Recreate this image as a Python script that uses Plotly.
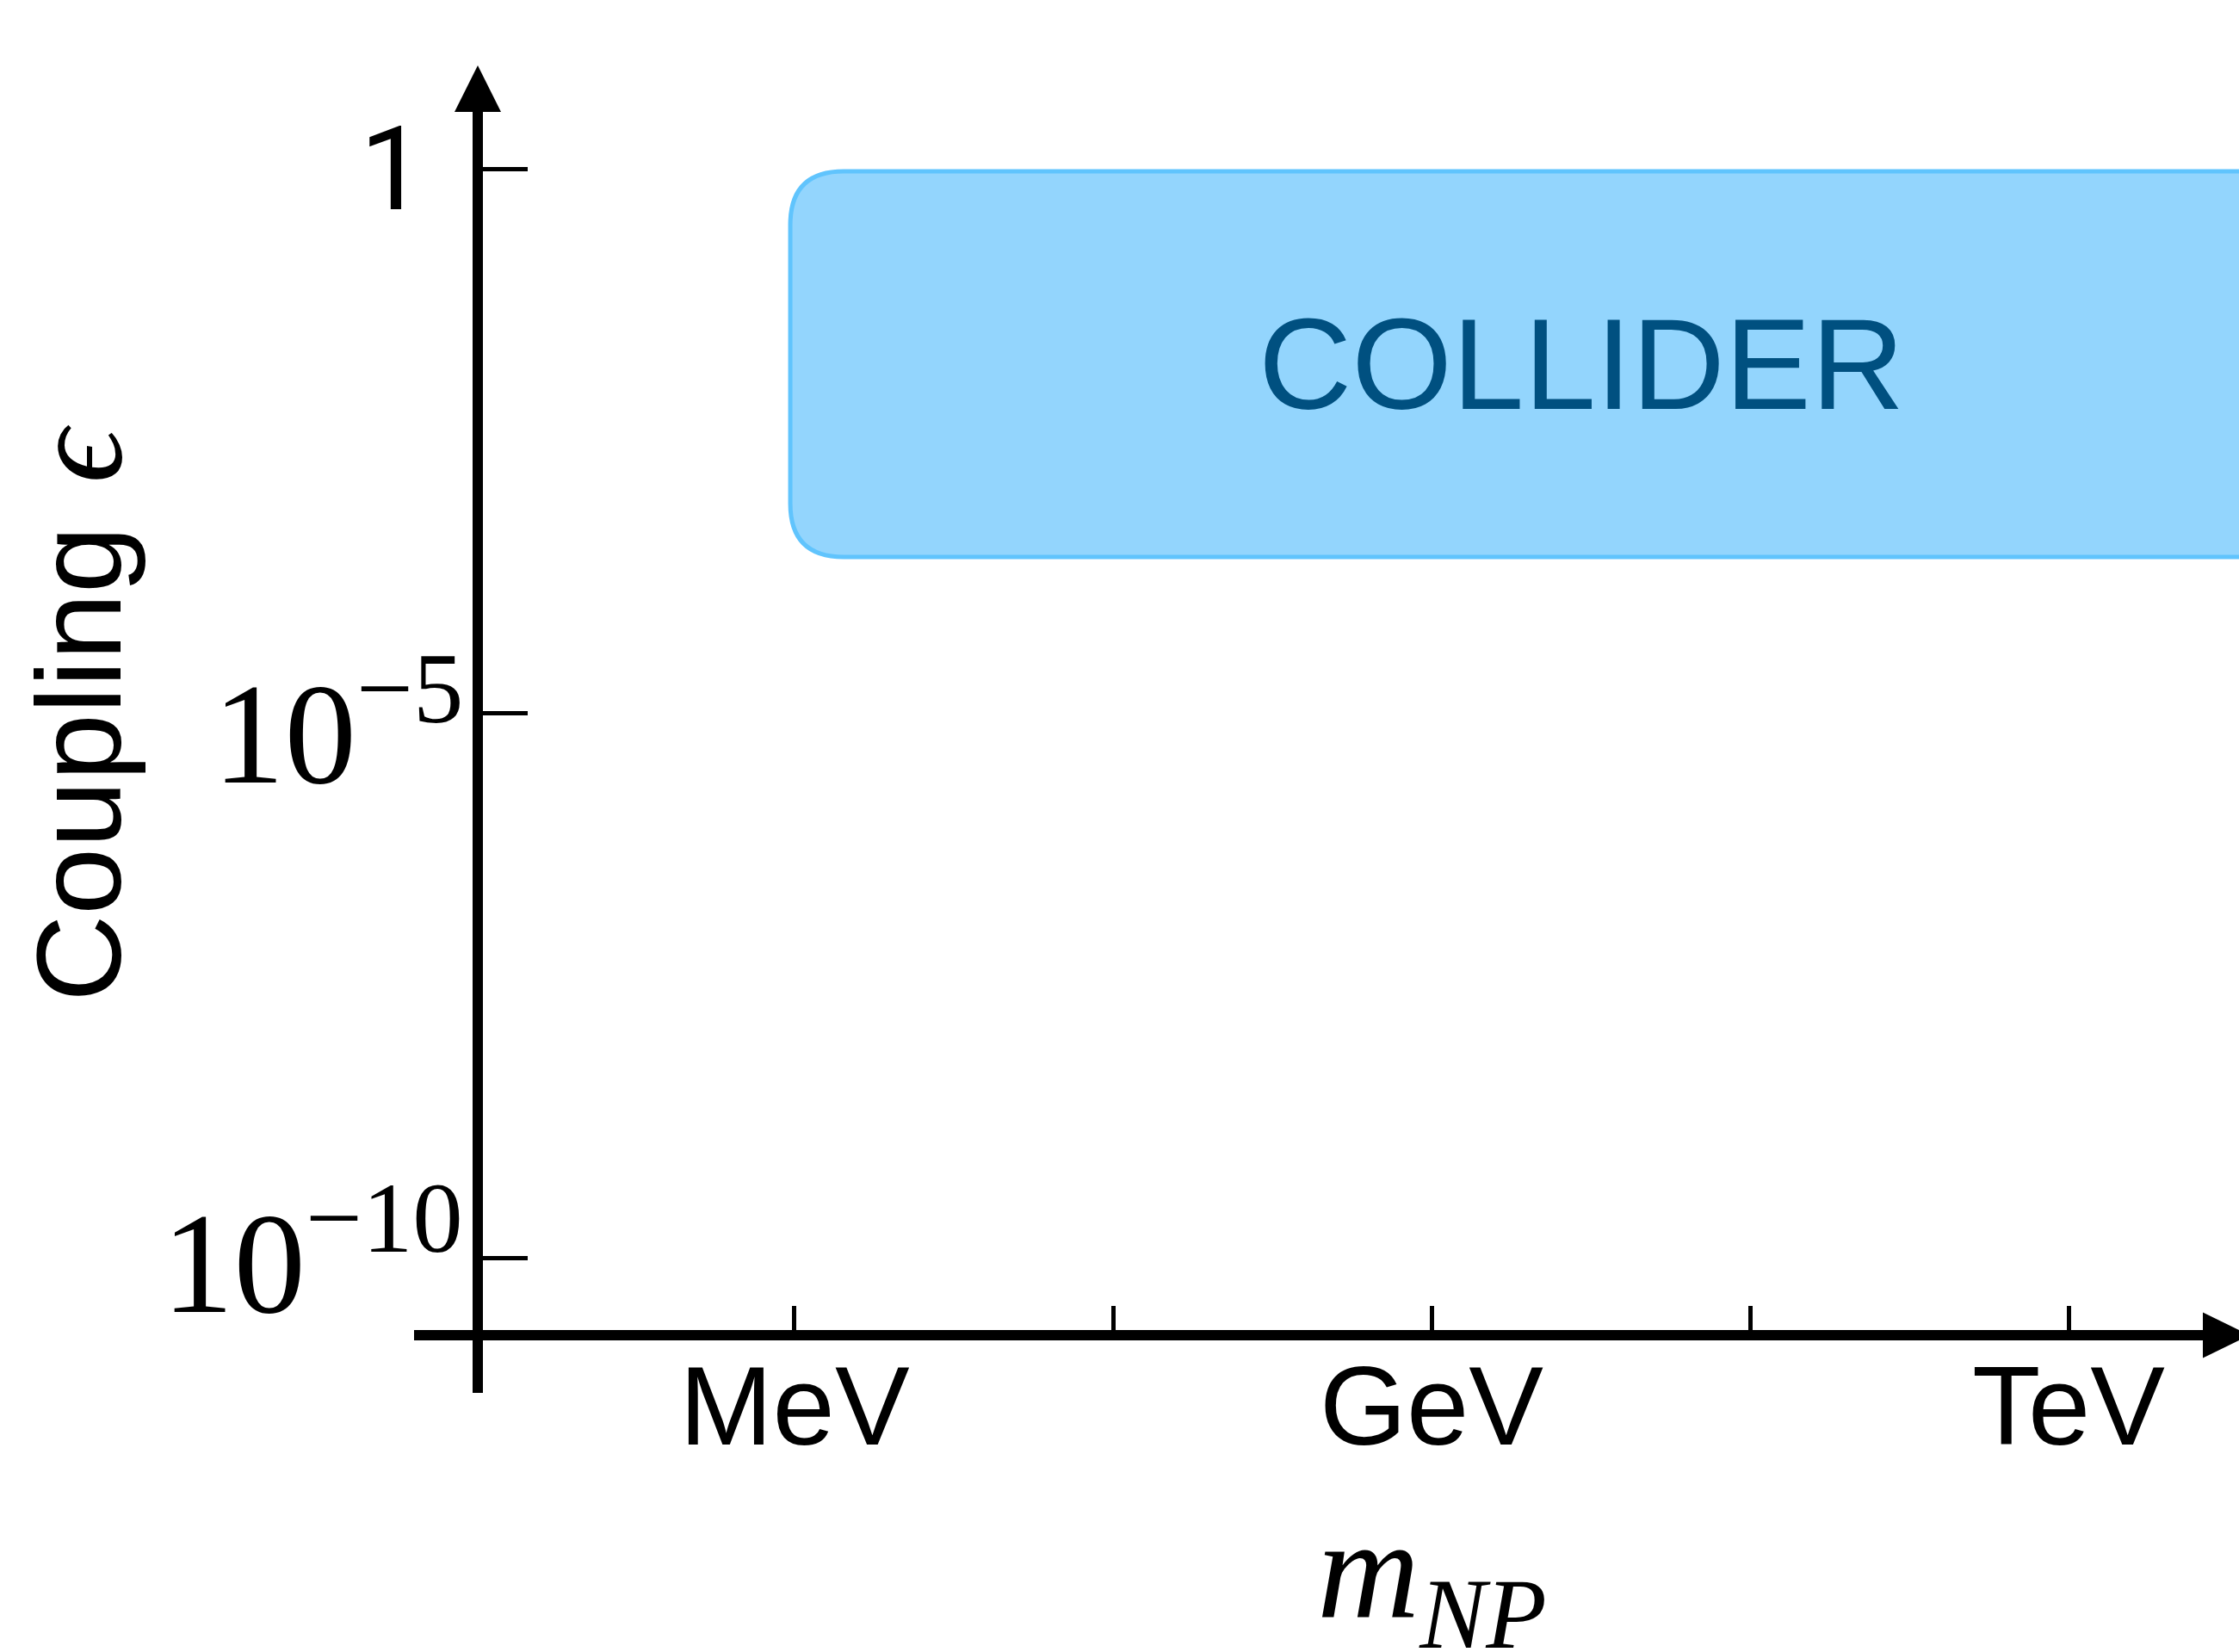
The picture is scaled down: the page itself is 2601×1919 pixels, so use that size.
import math
import plotly.graph_objects as go

# ---------------- data ----------------
mass_tick_vals_gev = [1e-3, 10**-1.5, 1.0, 10**1.5, 1e3]
mass_tick_labels = ["MeV", "", "GeV", "", "TeV"]
coupling_tick_vals = [1e-10, 1e-5, 1.0]
coupling_tick_labels = ["10<sup>\u221210</sup>", "10<sup>\u22125</sup>", "1"]
collider_mass_range_gev = [9.55e-4, 2.7e4]
collider_coupling_range = [2.74e-4, 0.957]
region_label = "COLLIDER"
x_title = "<i>m</i><sub><i>NP</i></sub>"
y_title = "Coupling"
y_title_symbol = "\u03f5"

# ---------------- layout geometry (pixels) ----------------
W, H = 2601, 1919
ML, MR, MT, MB = 561, 0, 130, 374
PW = W - ML - MR
PH = H - MT - MB

x_px_per_dec = 246.67
x_zero_px = 1663.0
xr = [(ML - x_zero_px) / x_px_per_dec, (W - MR - x_zero_px) / x_px_per_dec]
y_px_per_dec = 126.44
y_zero_px = 196.6
yr = [-(H - MB - y_zero_px) / y_px_per_dec, (y_zero_px - MT) / y_px_per_dec]


def px(x):
    return (x - ML) / PW


def py(y):
    return (H - MB - y) / PH


lx = [math.log10(v) for v in mass_tick_vals_gev]
ly = [math.log10(v) for v in coupling_tick_vals]

serif = "Liberation Serif"
sans = "Liberation Sans"
black = "#000000"

fig = go.Figure()

fig.add_trace(go.Scatter(x=[xr[0], xr[1]], y=[yr[0], yr[1]], mode="markers",
                         marker=dict(opacity=0), hoverinfo="skip", showlegend=False))

# rounded COLLIDER region
bx0, bx1 = [math.log10(v) for v in collider_mass_range_gev]
by0, by1 = [math.log10(v) for v in collider_coupling_range]
r_px = 62
rx = r_px / x_px_per_dec
ry = r_px / y_px_per_dec
path = (f"M{bx0 + rx},{by1} L{bx1 - rx},{by1} Q{bx1},{by1} {bx1},{by1 - ry} "
        f"L{bx1},{by0 + ry} Q{bx1},{by0} {bx1 - rx},{by0} "
        f"L{bx0 + rx},{by0} Q{bx0},{by0} {bx0},{by0 + ry} "
        f"L{bx0},{by1 - ry} Q{bx0},{by1} {bx0 + rx},{by1} Z")
fig.add_shape(type="path", path=path, xref="x", yref="y",
              fillcolor="#93D5FD", line=dict(color="#60C4FD", width=5), layer="below")

fig.add_annotation(x=(bx0 + bx1) / 2, y=(by0 + by1) / 2, xref="x", yref="y",
                   text=region_label, showarrow=False,
                   font=dict(family=sans, size=150, color="#005080"))

# y tick labels (drawn at the coupling tick values)
ylab_style = {
    "1": dict(family="Roboto", size=135, right=496, yshift=0),
    "10<sup>\u22125</sup>": dict(family=serif, size=167, right=540, yshift=-11),
    "10<sup>\u221210</sup>": dict(family=serif, size=167, right=540, yshift=6),
}
for val, lab in zip(ly, coupling_tick_labels):
    st = ylab_style[lab]
    fig.add_annotation(x=px(st["right"]), xref="paper", xanchor="right",
                       y=val, yref="y", yanchor="middle", yshift=st["yshift"],
                       text=lab, showarrow=False,
                       font=dict(family=st["family"], size=st["size"], color=black))

# axis overhangs and arrowheads
fig.add_shape(type="line", xref="paper", yref="paper", x0=px(481), x1=px(561),
              y0=py(1551), y1=py(1551), line=dict(color=black, width=12))
fig.add_shape(type="line", xref="paper", yref="paper", x0=px(555), x1=px(555),
              y0=py(1618), y1=py(1545), line=dict(color=black, width=12))
fig.add_shape(type="line", xref="paper", yref="paper", x0=px(555), x1=px(555),
              y0=py(140), y1=py(125), line=dict(color=black, width=12))
fig.add_shape(type="path", xref="paper", yref="paper",
              path=f"M{px(528)},{py(130)} L{px(582)},{py(130)} L{px(555)},{py(76)} Z",
              fillcolor=black, line=dict(width=0))
fig.add_shape(type="path", xref="paper", yref="paper",
              path=f"M{px(2559)},{py(1524.5)} L{px(2559)},{py(1577.5)} L{px(2613)},{py(1551)} Z",
              fillcolor=black, line=dict(width=0))

# axis titles
fig.add_annotation(x=0, xref="x", y=py(1835), yref="paper", yanchor="middle",
                   text=x_title, showarrow=False,
                   font=dict(family=serif, size=165, color=black))
fig.add_annotation(x=px(88), xref="paper", y=-5.0, yref="y", xanchor="center", yanchor="middle",
                   textangle=-90, showarrow=False,
                   text=(f'{y_title} <span style="font-size:40px">\u00a0</span>'
                         f'<span style="font-family:Times;font-size:155px"><i>{y_title_symbol}</i></span>'),
                   font=dict(family=sans, size=140, color=black))

fig.update_layout(
    width=W, height=H,
    margin=dict(l=ML, r=MR, t=MT, b=MB, pad=0),
    paper_bgcolor="white", plot_bgcolor="white",
    showlegend=False,
    xaxis=dict(range=xr, tickmode="array", tickvals=lx, ticktext=mass_tick_labels,
               showgrid=False, zeroline=False, showline=True, linewidth=12, linecolor=black,
               ticks="inside", ticklen=28, tickwidth=5, tickcolor=black,
               tickfont=dict(family=sans, size=130, color=black),
               ticklabelstandoff=-35, fixedrange=True),
    yaxis=dict(range=yr, tickmode="array", tickvals=ly, showticklabels=False,
               showgrid=False, zeroline=False, showline=True, linewidth=12, linecolor=black,
               ticks="inside", ticklen=52, tickwidth=5, tickcolor=black,
               fixedrange=True),
)

fig.write_html("out.html")
